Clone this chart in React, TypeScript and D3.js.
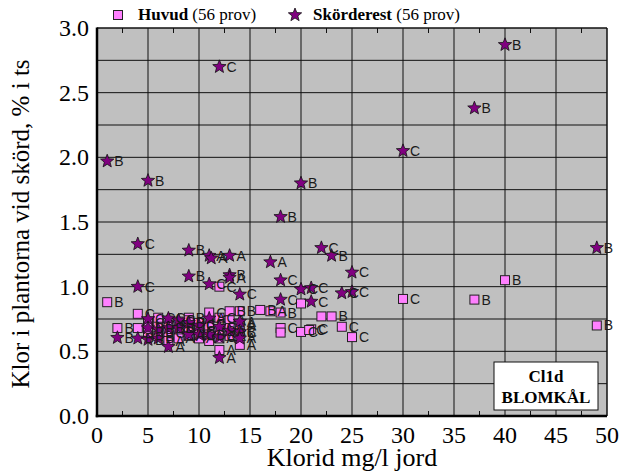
import React from "react";
import * as d3 from "d3";

const huvudX = [1, 4, 2, 4, 9, 9, 11, 13, 14, 13, 11, 11, 12, 14, 12, 17, 18, 20, 22, 23, 24, 25, 18, 18, 20, 21, 20.8, 30, 37, 40, 49, 5, 5, 6, 6, 7, 7, 8, 8, 8, 9, 9, 10, 10, 10, 11, 12, 12, 12, 13, 13, 14, 14, 6, 7, 16];
const huvudY = [0.88, 0.79, 0.68, 0.68, 0.76, 0.74, 0.8, 0.81, 0.81, 0.74, 0.64, 0.58, 0.51, 0.55, 1.0, 0.81, 0.8, 0.87, 0.77, 0.77, 0.69, 0.61, 0.68, 0.645, 0.65, 0.67, 0.665, 0.905, 0.9, 1.05, 0.7, 0.72, 0.65, 0.7, 0.62, 0.72, 0.64, 0.73, 0.66, 0.6, 0.68, 0.62, 0.72, 0.66, 0.6, 0.7, 0.76, 0.66, 0.6, 0.68, 0.62, 0.7, 0.64, 0.76, 0.58, 0.82];
const huvudLbl = ["B", "C", "B", "", "B", "", "C", "B", "B", "A", "", "", "A", "A", "C", "A", "B", "", "", "B", "C", "C", "C", "", "C", "C", "C", "C", "B", "B", "B", "C", "B", "C", "B", "B", "C", "C", "B", "A", "C", "A", "B", "C", "A", "B", "C", "B", "A", "C", "A", "A", "C", "C", "A", "B"];

const starX = [1, 5, 12, 40, 37, 30, 49, 20, 18, 17, 22, 23, 25, 18, 20, 21, 24, 25, 14, 18, 21, 4, 4, 9, 11, 11.2, 13, 9, 11, 13, 13, 2, 4, 5, 5, 5, 6, 7, 7, 7, 8, 9, 10, 11, 11, 12, 14, 14, 12, 8, 6, 10, 13, 9, 12, 14];
const starY = [1.97, 1.82, 2.7, 2.87, 2.38, 2.05, 1.3, 1.8, 1.54, 1.19, 1.3, 1.24, 1.11, 1.05, 0.98, 0.99, 0.95, 0.96, 0.94, 0.9, 0.885, 1.33, 1.0, 1.28, 1.24, 1.22, 1.24, 1.08, 1.02, 1.09, 1.07, 0.605, 0.6, 0.75, 0.68, 0.59, 0.6, 0.755, 0.68, 0.535, 0.68, 0.63, 0.63, 0.755, 0.63, 0.69, 0.73, 0.65, 0.45, 0.74, 0.67, 0.7, 0.66, 0.72, 0.61, 0.6];
const starLbl = ["B", "B", "C", "B", "B", "C", "B", "B", "B", "A", "C", "B", "C", "C", "C", "C", "C", "C", "C", "C", "C", "C", "C", "B", "A", "A", "A", "B", "C", "B", "A", "B", "B", "C", "B", "B", "B", "C", "B", "A", "B", "A", "C", "A", "B", "C", "A", "B", "A", "C", "B", "C", "A", "B", "C", "A"];

const xTicks = [0, 5, 10, 15, 20, 25, 30, 35, 40, 45, 50];
const yTicks = [0, 0.5, 1, 1.5, 2, 2.5, 3];

const W = 625, H = 475;
const L = 97, R = 607, T = 28, B = 416;

function starPath(cx: number, cy: number, ro: number, ri: number) {
  const pts: string[] = [];
  for (let i = 0; i < 10; i++) {
    const r = i % 2 === 0 ? ro : ri;
    const a = -Math.PI / 2 + (i * Math.PI) / 5;
    pts.push(`${(cx + r * Math.cos(a)).toFixed(2)},${(cy + r * Math.sin(a)).toFixed(2)}`);
  }
  return "M" + pts.join("L") + "Z";
}

export default function App() {
  const x = d3.scaleLinear().domain([0, 50]).range([L, R]);
  const y = d3.scaleLinear().domain([0, 3]).range([B, T]);
  const vGrid = d3.range(5, 50, 5);
  const hGrid = d3.range(0.25, 3, 0.25);
  const minorX = d3.range(2.5, 50, 5);
  const huvud = huvudX.map((v, i) => ({ x: v, y: huvudY[i], l: huvudLbl[i] }));
  const stars = starX.map((v, i) => ({ x: v, y: starY[i], l: starLbl[i] }));
  const serif = "'Liberation Serif', 'Times New Roman', serif";
  const sans = "'Liberation Sans', Arial, sans-serif";
  return (
    <svg width={W} height={H} style={{ position: "absolute", left: 0, top: 0, background: "#fff" }}>
      <rect x={L} y={T} width={R - L} height={B - T} fill="#c0c0c0" />
      {vGrid.map((v) => (
        <line key={"v" + v} x1={x(v)} x2={x(v)} y1={T} y2={B} stroke="#111" strokeWidth={1} />
      ))}
      {hGrid.map((v) => (
        <line key={"h" + v} x1={L} x2={R} y1={y(v)} y2={y(v)} stroke="#111" strokeWidth={1} />
      ))}
      {minorX.map((v) => (
        <g key={"m" + v}>
          <line x1={x(v)} x2={x(v)} y1={T} y2={T + 5} stroke="#111" />
          <line x1={x(v)} x2={x(v)} y1={B} y2={B - 5} stroke="#111" />
        </g>
      ))}
      <line x1={R} x2={R} y1={T} y2={B} stroke="#111" strokeWidth={1.5} />
      <line x1={L} x2={R} y1={T} y2={T} stroke="#111" strokeWidth={1.5} />
      <line x1={L} x2={L} y1={T - 0.5} y2={B + 1.25} stroke="#000" strokeWidth={2.5} />
      <line x1={L - 1.25} x2={R} y1={B} y2={B} stroke="#000" strokeWidth={2.5} />
      {huvud.map((d, i) => (
        <rect key={"s" + i} x={x(d.x) - 4.5} y={y(d.y) - 4.5} width={9} height={9} fill="#ff80ff" stroke="#222" strokeWidth={1} />
      ))}
      {huvud.map((d, i) => (
        <text key={"sl" + i} x={x(d.x) + 7} y={y(d.y) + 5} fontFamily={sans} fontSize={14} fill="#1a1a1a">{d.l}</text>
      ))}
      {stars.map((d, i) => (
        <path key={"p" + i} d={starPath(x(d.x), y(d.y), 7, 3)} fill="#800080" stroke="#111" strokeWidth={0.8} />
      ))}
      {stars.map((d, i) => (
        <text key={"pl" + i} x={x(d.x) + 7} y={y(d.y) + 5} fontFamily={sans} fontSize={14} fill="#1a1a1a">{d.l}</text>
      ))}
      {xTicks.map((v) => (
        <text key={"xt" + v} x={x(v)} y={443} textAnchor="middle" fontFamily={serif} fontSize={24} fill="#000">{v}</text>
      ))}
      {yTicks.map((v) => (
        <text key={"yt" + v} x={89} y={y(v) + 8} textAnchor="end" fontFamily={serif} fontSize={24} fill="#000">{v.toFixed(1)}</text>
      ))}
      <text x={352} y={466} textAnchor="middle" fontFamily={serif} fontSize={26} fill="#000">Klorid mg/l jord</text>
      <text transform={`translate(29,${(T + B) / 2 + 2}) rotate(-90)`} textAnchor="middle" fontFamily={serif} fontSize={25} fill="#000">
        Klor i plantorna vid skörd, % i ts
      </text>
      <rect x={113.5} y={10.5} width={9} height={9} fill="#ff80ff" stroke="#222" strokeWidth={1} />
      <text x={138} y={20} fontFamily={serif} fontSize={17} fill="#000">
        <tspan fontWeight="bold">Huvud</tspan> (56 prov)
      </text>
      <path d={starPath(295, 15, 7, 3)} fill="#800080" stroke="#111" strokeWidth={0.8} />
      <text x={313} y={20} fontFamily={serif} fontSize={17} fill="#000">
        <tspan fontWeight="bold">Skörderest</tspan> (56 prov)
      </text>
      <rect x={494} y={362} width={104} height={48} fill="#fff" stroke="#111" strokeWidth={1} />
      <text x={546} y={382} textAnchor="middle" fontFamily={serif} fontWeight="bold" fontSize={17} fill="#000">Cl1d</text>
      <text x={546} y={403} textAnchor="middle" fontFamily={serif} fontWeight="bold" fontSize={17} fill="#000">BLOMKÅL</text>
    </svg>
  );
}
